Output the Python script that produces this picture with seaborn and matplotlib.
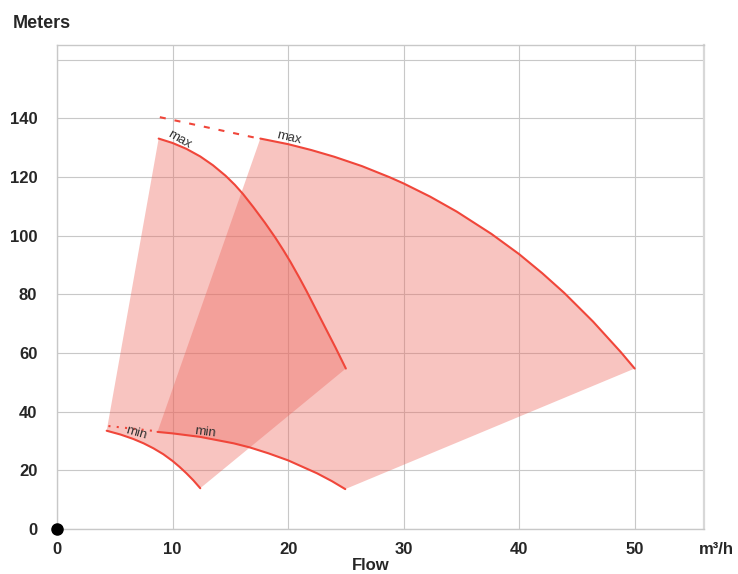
import matplotlib
matplotlib.use("Agg")
import matplotlib.pyplot as plt
import seaborn as sns

# pump A (smaller), max and min speed curves: flow m3/h, head m
small_max_q = [8.8, 10.0, 11.2, 12.4, 13.5, 14.6, 15.4, 16.1, 17.0, 18.0,
               18.9, 19.6, 20.2, 21.0, 21.6, 22.9, 24.1, 25.0]
small_max_h = [133.1, 131.6, 129.6, 127.0, 124.0, 120.4, 117.3, 114.2, 109.7, 104.4,
               99.3, 95.0, 91.1, 85.5, 81.1, 71.1, 61.9, 54.7]
small_min_q = [4.3, 5.5, 6.6, 7.5, 8.35, 9.2, 10.0, 10.6, 11.2, 11.8, 12.4]
small_min_h = [33.5, 32.2, 30.7, 29.2, 27.5, 25.5, 23.2, 21.2, 19.0, 16.6, 13.9]

# pump B (bigger)
big_max_q = [17.6, 20.0, 22.0, 24.0, 26.4, 28.8, 30.0, 32.3, 34.6, 37.6,
             40.0, 42.0, 43.9, 46.4, 48.8, 50.0]
big_max_h = [133.1, 131.2, 129.2, 126.9, 123.7, 119.9, 117.8, 113.3, 108.2, 100.6,
             93.7, 87.2, 80.5, 70.7, 60.3, 54.7]
big_min_q = [8.7, 10.0, 12.4, 15.3, 16.7, 18.3, 20.0, 22.5, 23.8, 24.95]
big_min_h = [33.1, 32.6, 31.4, 29.2, 27.8, 25.8, 23.4, 19.0, 16.3, 13.6]

# connectors between the two pumps
max_link_q = [8.9, 17.5]
max_link_h = [140.4, 133.1]
min_link_q = [4.45, 8.7]
min_link_h = [35.1, 33.3]

x_ticks = [0, 10, 20, 30, 40, 50]
y_ticks = [0, 20, 40, 60, 80, 100, 120, 140, 160]
y_tick_labels = ["0", "20", "40", "60", "80", "100", "120", "140", ""]

line_red = "#f0463a"
fill_red = "#ed685e"
grid_grey = "#c8c8c8"

sns.set_style("white")
plt.rcParams["font.family"] = ["Liberation Sans", "DejaVu Sans"]

fig = plt.figure(figsize=(7.38, 5.74), dpi=100)
ax = fig.add_axes([57 / 738, 45 / 574, 647 / 738, 484 / 574])

# shaded operating areas
ax.fill(small_max_q + small_min_q[::-1], small_max_h + small_min_h[::-1],
        color=fill_red, alpha=0.39, lw=0, zorder=2)
ax.fill(big_max_q + big_min_q[::-1], big_max_h + big_min_h[::-1],
        color=fill_red, alpha=0.39, lw=0, zorder=2)

for q, h in [(small_max_q, small_max_h), (small_min_q, small_min_h),
             (big_max_q, big_max_h), (big_min_q, big_min_h)]:
    sns.lineplot(x=q, y=h, sort=False, estimator=None, color=line_red,
                 lw=1.5, ax=ax, zorder=3)

ax.plot(max_link_q, max_link_h, color=line_red, lw=1.5, dashes=(2.9, 4.3), zorder=3)
ax.plot(min_link_q, min_link_h, color=line_red, lw=1.5, dashes=(1, 3), zorder=3)

# curve labels
lbl = dict(fontsize=9.5, color="#333333", ha="center", va="baseline",
           rotation_mode="anchor", zorder=4)
ax.text(10.45, 131.9, "max", rotation=-30, **lbl)
ax.text(20.0, 132.3, "max", rotation=-13, **lbl)
ax.text(6.75, 31.6, "min", rotation=-16, **lbl)
ax.text(12.8, 31.9, "min", rotation=-7, **lbl)

# origin dot
ax.plot([0], [0], "o", color="black", ms=8, clip_on=False, zorder=6)

ax.set_xlim(0, 56)
ax.set_ylim(0, 165)
ax.set_xticks(x_ticks)
ax.set_xticklabels([str(t) for t in x_ticks], fontweight="bold", fontsize=12)
ax.set_yticks(y_ticks)
ax.set_yticklabels(y_tick_labels, fontweight="bold", fontsize=12)
ax.tick_params(axis="y", length=7.2, width=0.8, color=grid_grey, pad=7)
ax.tick_params(axis="x", length=0, pad=9)

ax.grid(True, color=grid_grey, lw=0.8)
ax.set_axisbelow(True)
for side in ["left", "right", "top", "bottom"]:
    ax.spines[side].set_color(grid_grey)
    ax.spines[side].set_linewidth(1.0)
ax.spines["right"].set_linewidth(1.6)
ax.spines["right"].set_color("#d8d8d8")

fig.text(13 / 738, 1 - 23 / 574, "Meters", ha="left", va="center",
         fontsize=13, fontweight="bold")
fig.text(716 / 738, 1 - 549 / 574, "m³/h", ha="center", va="center",
         fontsize=12, fontweight="bold")
fig.text(371 / 738, 1 - 566 / 574, "Flow", ha="center", va="center",
         fontsize=12, fontweight="bold")

fig.savefig("out.png", dpi=100)
